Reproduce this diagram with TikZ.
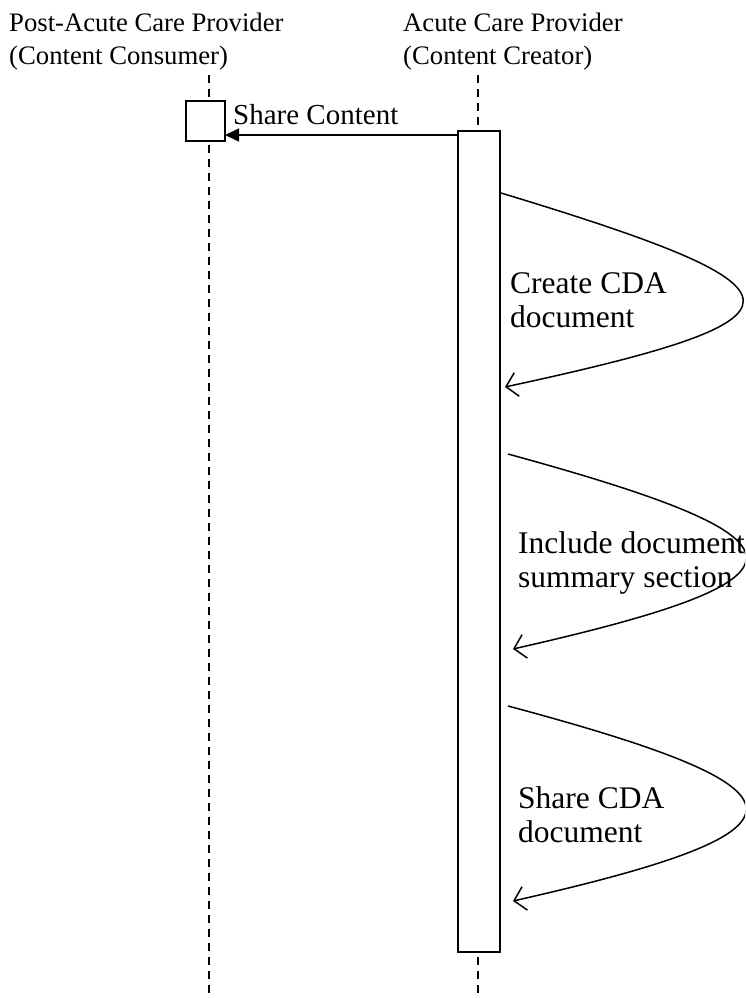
\documentclass[tikz,border=0pt]{standalone}
\usepackage{fontspec}
\setmainfont{Liberation Serif}
\usetikzlibrary{arrows.meta}
\begin{document}
\begin{tikzpicture}[x=1pt,y=-1pt,
  titletext/.style={anchor=base west, inner sep=0, align=left, font=\fontsize{26.7}{33}\selectfont},
  msgtext/.style={anchor=base west, inner sep=0, align=left, font=\fontsize{29}{34}\selectfont},
  selftext/.style={anchor=base west, inner sep=0, align=left, font=\fontsize{31.5}{34}\selectfont},
  lifeline/.style={line width=1.5pt, dash pattern=on 8pt off 6pt},
  actbox/.style={draw, line width=2pt, fill=white, inner sep=0},
  msg/.style={line width=1.5pt, -{Triangle[length=14pt,width=13pt]}},
  selfmsg/.style={line width=1.5pt, -{Straight Barb[length=11pt,width=24pt,line width=1.5pt]}}]
\clip (0,0) rectangle (745,998);
\fill[white] (0,0) rectangle (745,998);
% titles (base anchor = last line baseline)
\node[titletext] (t1) at (9,65) {Post-Acute Care Provider\\(Content Consumer)};
\node[titletext] (t2) at (403,65) {Acute Care Provider\\(Content Creator)};
% lifelines
\coordinate (l1top) at (209,75);
\coordinate (l1bot) at (209,1000);
\coordinate (l2top) at (478,75);
\coordinate (l2bot) at (478,1000);
\draw[lifeline] (l1top) -- (l1bot);
\draw[lifeline] (l2top) -- (l2bot);
% activation boxes
\node[actbox, minimum width=39pt, minimum height=40pt] (cbox) at (205.5,120.5) {};
\node[actbox, minimum width=42pt, minimum height=821pt] (act) at (479.3,541.5) {};
% share content message
\coordinate (m0) at (458,135);
\coordinate (m1) at (225,135);
\draw[msg] (m0) -- (m1);
\node[msgtext] (mt) at (233,124) {Share Content};
% self messages
\coordinate (s1) at (501,193);
\coordinate (e1) at (505,387);
\draw[selfmsg] (s1) .. controls (821,290) and (825,318) .. (e1);
\node[selftext] (c1) at (510,327) {Create CDA\\document};
\coordinate (s2) at (508,454);
\coordinate (e2) at (513,649);
\draw[selfmsg] (s2) .. controls (822,540) and (827,578) .. (e2);
\node[selftext] (c2) at (518,587) {Include document\\summary section};
\coordinate (s3) at (508,706);
\coordinate (e3) at (513,901);
\draw[selfmsg] (s3) .. controls (822,790) and (827,830) .. (e3);
\node[selftext] (c3) at (518,842) {Share CDA\\document};
\end{tikzpicture}
\end{document}
